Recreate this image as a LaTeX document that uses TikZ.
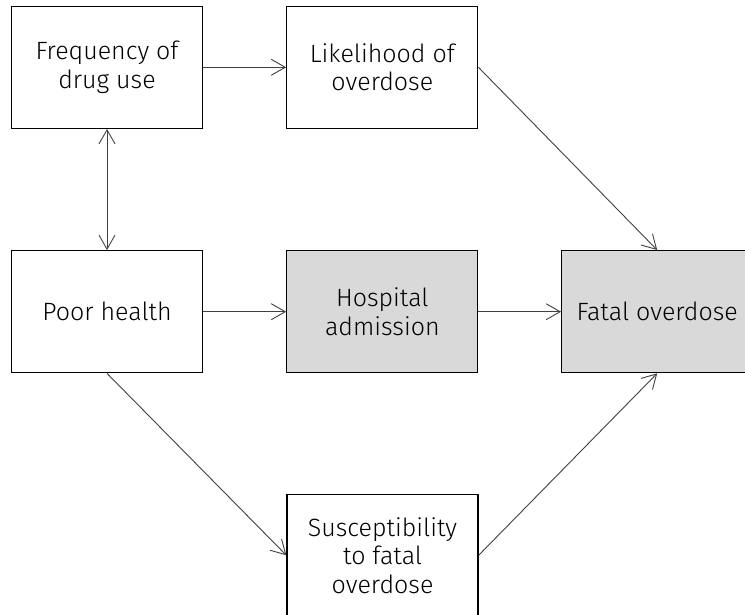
\documentclass[tikz,border=0pt]{standalone}
\usepackage{fontspec}
\setmainfont{Fira Sans}[UprightFont=* Light]
\usetikzlibrary{arrows.meta}
\tikzset{
  box/.style={draw=black, line width=1.3pt, minimum width=191pt, minimum height=122pt, align=center, inner sep=0pt, font=\fontsize{25pt}{28.5pt}\selectfont, text=black},
  shaded/.style={box, fill=black!15},
  conn/.style={draw=black!75, line width=0.9pt, -{Straight Barb[length=14pt,width=16pt,line width=0.9pt]}},
  biconn/.style={draw=black!75, line width=0.9pt, {Straight Barb[length=14pt,width=16pt,line width=0.9pt]}-{Straight Barb[length=14pt,width=16pt,line width=0.9pt]}}
}
\begin{document}
\begin{tikzpicture}[x=1pt,y=-1pt]
\useasboundingbox (0,0) rectangle (745,615);
\node[box] (freq) at (107,67.3) {Frequency of\\drug use};
\node[box] (like) at (382.3,67.3) {Likelihood of\\overdose};
\node[box] (poor) at (107,311.7) {Poor health};
\node[shaded] (hosp) at (382.3,311.7) {Hospital\\admission};
\node[shaded] (fatal) at (657.2,311.7) {Fatal overdose};
\node[box] (susc) at (382.5,555.3) {Susceptibility\\to fatal\\overdose};
\draw[conn] (freq.east) -- (like.west);
\draw[biconn] (freq.south) -- (poor.north);
\draw[conn] (like.east) -- (fatal.north);
\draw[conn] (poor.east) -- (hosp.west);
\draw[conn] (hosp.east) -- (fatal.west);
\draw[conn] (poor.south) -- (susc.west);
\draw[conn] (susc.east) -- (fatal.south);
\end{tikzpicture}
\end{document}
